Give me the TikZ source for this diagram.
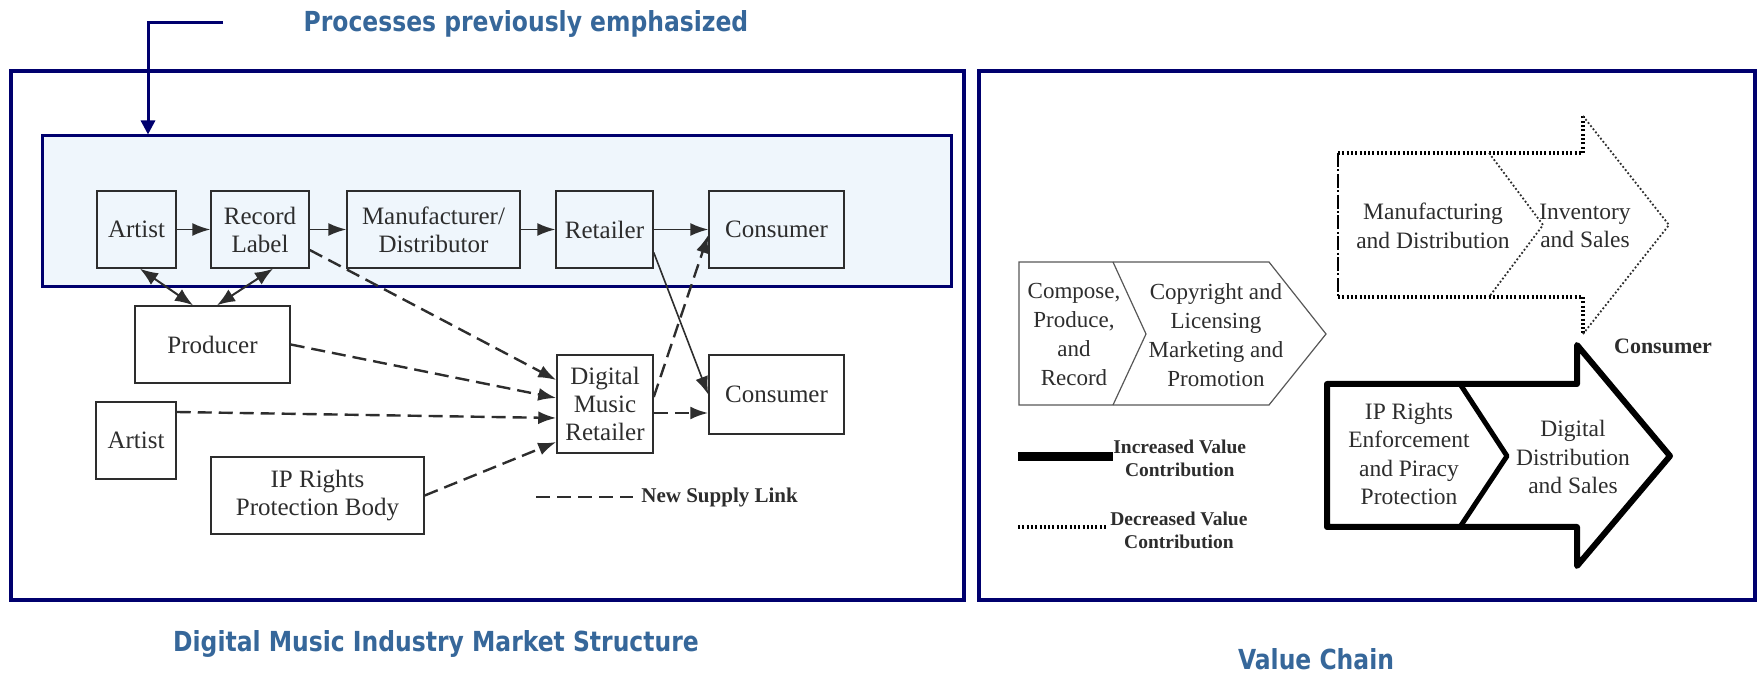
\documentclass[tikz,border=0pt]{standalone}
\usepackage{fontspec}
\setmainfont{Liberation Serif}
\newfontfamily\capfont[FakeStretch=0.85]{DejaVu Sans}
\usepackage{xcolor}
\usetikzlibrary{positioning,arrows.meta,calc}
\definecolor{frame}{RGB}{0,0,110}
\definecolor{capblue}{RGB}{54,103,154}
\definecolor{focusfill}{RGB}{239,246,252}
\definecolor{ink}{RGB}{45,45,45}

\begin{document}
\begin{tikzpicture}[x=0.5pt,y=-0.5pt,
    caption/.style={font=\capfont\bfseries\fontsize{13.8}{16}\selectfont, text=capblue},
    panel/.style={draw=frame, line width=1.65pt, inner sep=0pt},
    actor/.style={draw=ink, line width=0.75pt, minimum height=38.5pt, inner sep=0pt,
      align=center, text=ink, font=\fontsize{12.5}{14}\selectfont},
    flow/.style={-{Latex[length=9pt,width=6.5pt]}, draw=ink, line width=0.8pt},
    newlink/.style={flow, line width=1.2pt, dash pattern=on 7pt off 3.5pt},
    both/.style={{Latex[length=9pt,width=7pt]}-{Latex[length=9pt,width=7pt]}, draw=ink, line width=1pt},
    stage/.style={align=center, text=ink, inner sep=0pt, font=\fontsize{11.75}{14.25}\selectfont},
    keytext/.style={align=center, text=ink, inner sep=0pt, font=\bfseries\fontsize{9.75}{11.5}\selectfont},
    lessval/.style={line width=1.7pt, dash pattern=on 1pt off 1.15pt},
    lesshead/.style={draw=ink, line width=0.9pt, dash pattern=on 0.9pt off 1.1pt},
  ]
  \useasboundingbox (0,0) rectangle (1758,673);

  % two panels
  \node[panel, minimum width=476.5pt, minimum height=264.5pt] (mkt) at (487.5,335.5) {};
  \node[panel, minimum width=388pt, minimum height=264.5pt] (vch) at (1367,335.5) {};

  % highlighted old chain
  \node[draw=frame, line width=1.5pt, fill=focusfill, minimum width=454.5pt,
    minimum height=75.5pt, inner sep=0pt] (focus) at (496.5,211.5) {};
  \node[caption] (procs) at (526,24) {Processes previously emphasized};
  \coordinate (ppstart) at (223,23);
  \coordinate (ppbend) at (148,23);
  \draw[frame, line width=1.5pt, -{Triangle[length=7pt,width=7pt]}] (ppstart) -- (ppbend) -- (ppbend |- focus.north);

  % market players
  \node[actor, minimum width=39.5pt] (artist) at (136.5,229.5) {Artist};
  \node[actor, minimum width=49pt] (label) at (260,229.5) {Record\\Label};
  \node[actor, minimum width=86.5pt] (maker) at (433.5,229.5) {Manufacturer/\\Distributor};
  \node[actor, minimum width=48.5pt] (retail) at (604.5,229.5) {Retailer};
  \node[actor, minimum width=67.5pt] (buyer) at (776.5,229.5) {Consumer};
  \node[actor, minimum width=77.5pt] (producer) at (212.5,344.5) {Producer};
  \node[actor, minimum width=40pt] (artistb) at (136,440.5) {Artist};
  \node[actor, minimum width=106.5pt] (iprights) at (317.5,495.5) {IP Rights\\Protection Body};
  \node[actor, minimum width=48pt, minimum height=49pt] (dmr) at (605,404) {Digital\\Music\\Retailer};
  \node[actor, minimum width=67.5pt, minimum height=39.5pt] (buyerb) at (776.5,394.5) {Consumer};

  % old supply links
  \draw[flow] (artist) -- (label);
  \draw[flow] (label) -- (maker);
  \draw[flow] (maker) -- (retail);
  \draw[flow] (retail) -- (buyer);
  \draw[flow] ([yshift=-11.5pt]retail.east) -- (buyerb.west);
  \draw[both] ([xshift=1.75pt]artist.south) -- ([xshift=-9.75pt]producer.north);
  \draw[both] ([xshift=6.5pt]label.south) -- ([xshift=2.25pt]producer.north);

  % new supply links
  \draw[newlink] ([yshift=-10.25pt]label.east) -- ([yshift=12pt]dmr.west);
  \draw[newlink] (producer.east) -- ([yshift=3pt]dmr.west);
  \draw[newlink] ([yshift=14.25pt]artistb.east) -- ([yshift=-7pt]dmr.west);
  \draw[newlink] (iprights.east) -- ([yshift=-19pt]dmr.west);
  \draw[newlink] ([yshift=3.5pt]dmr.east) -- ([yshift=-2.75pt]buyer.west);
  \draw[newlink] ([yshift=-4.5pt]dmr.east) -- ([yshift=-9.25pt]buyerb.west);

  % legend left
  \node[keytext, anchor=west, font=\bfseries\fontsize{10.5}{12}\selectfont] (newkey) at (641,497) {New Supply Link};
  \coordinate (newsample) at (536,497);
  \draw[ink, line width=1.2pt, dash pattern=on 7pt off 3.5pt] (newsample) -- ([xshift=-4pt]newkey.west);

  % value chain: traditional stages
  \draw[ink!80, line width=0.6pt] (1019,262) -- (1269,262) -- (1326,334) -- (1269,405) -- (1019,405) -- cycle;
  \draw[ink!80, line width=0.6pt] (1113,262) -- (1146,334) -- (1113,405);
  \node[stage, font=\fontsize{11.5}{14.5}\selectfont] (compose) at (1074,335) {Compose,\\Produce,\\and\\Record};
  \node[stage, font=\fontsize{11.5}{14.5}\selectfont] (rights) at (1216,335) {Copyright and\\Licensing\\Marketing and\\Promotion};

  % decreased value arrow
  \draw[lessval] (1338,153) -- (1583,153) -- (1583,116);
  \draw[lessval] (1338,297) -- (1583,297) -- (1583,334);
  \draw[lesshead] (1583,116) -- (1669,225) -- (1583,334);
  \draw[line width=1.2pt, dash pattern=on 7pt off 1.2pt on 1pt off 1.2pt] (1338,153) -- (1338,297);
  \draw[lesshead] (1489,153) -- (1543,225) -- (1489,297);
  \node[stage] (making) at (1433,226) {Manufacturing\\and Distribution};
  \node[stage] (stock) at (1585,226) {Inventory\\and Sales};
  \node[text=ink, font=\bfseries\fontsize{11}{13}\selectfont] (enduser) at (1663,346) {Consumer};

  % increased value arrow
  \draw[line width=3pt, line join=round] (1327,384) -- (1577,384) -- (1577,345) -- (1670,456)
    -- (1577,566) -- (1577,527) -- (1327,527) -- cycle;
  \draw[line width=2.5pt, line join=round] (1460,384) -- (1507,456) -- (1460,527);
  \node[stage] (enforce) at (1409,454) {IP Rights\\Enforcement\\and Piracy\\Protection};
  \node[stage] (digital) at (1573,457) {Digital\\Distribution\\and Sales};

  % legend right
  \node[keytext, anchor=west] (more) at (1113,458) {Increased Value\\Contribution};
  \node[keytext, anchor=west] (less) at (1110,530) {Decreased Value\\Contribution};
  \coordinate (moresample) at (1018,457);
  \coordinate (lesssample) at (1018,527);
  \draw[line width=4.5pt] (moresample) -- (more.west |- moresample);
  \draw[lessval] (lesssample) -- ([xshift=-2pt]less.west |- lesssample);

  % captions
  \node[caption] (mktcap) at (436,644) {Digital Music Industry Market Structure};
  \node[caption] (vchcap) at (1316,659) {Value Chain};
\end{tikzpicture}
\end{document}
